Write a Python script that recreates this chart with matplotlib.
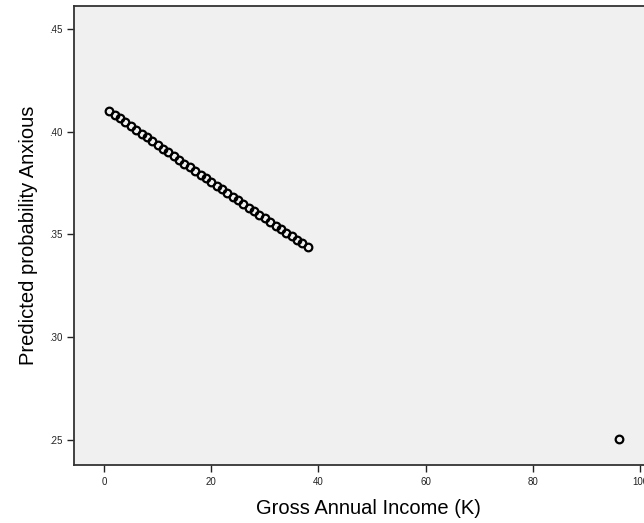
import matplotlib
matplotlib.use("Agg")
import matplotlib.pyplot as plt
from matplotlib.ticker import FuncFormatter

plt.rcParams['font.family'] = ['Liberation Sans', 'DejaVu Sans']

# predicted probabilities
income = list(range(1, 39)) + [96]
prob = [0.4102, 0.4083, 0.4065, 0.4046, 0.4028, 0.4009, 0.3991, 0.3972,
        0.3954, 0.3936, 0.3917, 0.3899, 0.3881, 0.3863, 0.3845, 0.3827,
        0.3809, 0.3791, 0.3773, 0.3755, 0.3737, 0.3719, 0.3701, 0.3684,
        0.3666, 0.3648, 0.3631, 0.3613, 0.3596, 0.3578, 0.3561, 0.3543,
        0.3526, 0.3509, 0.3491, 0.3474, 0.3457, 0.3440, 0.2505]

xticks = [0, 20, 40, 60, 80, 100]
yticks = [0.25, 0.30, 0.35, 0.40, 0.45]

fig = plt.figure(figsize=(6.44, 5.23), dpi=100)
ax = fig.add_axes([74/644, 58/523, 0.904, 459/523])
ax.set_facecolor('#f0f0f0')

ax.plot(income, prob, linestyle='none', marker='o', markersize=5.5,
        markerfacecolor='none', markeredgecolor='black', markeredgewidth=1.6)

ax.set_xlim(-5.6, 103)
ax.set_ylim(0.2378, 0.4612)
ax.set_xticks(xticks)
ax.set_yticks(yticks)
ax.yaxis.set_major_formatter(FuncFormatter(lambda v, p: ('%.2f' % v).lstrip('0')))
ax.tick_params(axis='both', direction='out', length=5, width=1,
               labelsize=7, colors='#222222')

for s in ax.spines.values():
    s.set_linewidth(1.3)
    s.set_color('#333333')

# labels placed in figure pixels (from top-left)
fig.text(368/644, 1 - 508/523, 'Gross Annual Income (K)', ha='center',
         va='center', fontsize=14.5)
fig.text(29/644, 1 - 235/523, 'Predicted probability Anxious', ha='center',
         va='center', rotation=90, fontsize=14.5)

fig.savefig('out.png', dpi=100)
